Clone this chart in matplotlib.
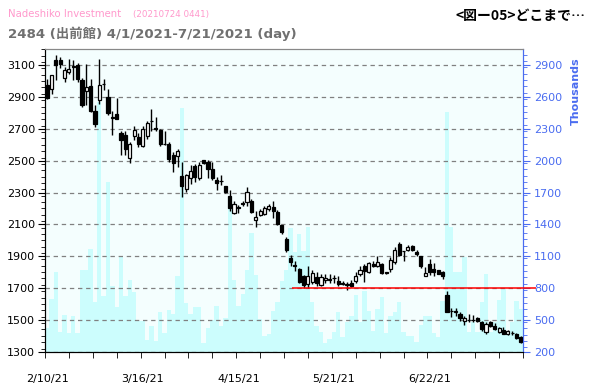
import matplotlib
matplotlib.use("Agg")
import matplotlib.pyplot as plt
import numpy as np
from matplotlib.ticker import MultipleLocator, FixedLocator

# ---- data ----
opens = [2978, 2952, 3135, 3135, 3022, 3057, 3095, 3099, 3005, 2940,
         2970, 2815, 2879, 2980, 2900, 2770, 2795, 2675, 2663, 2518,
         2654, 2646, 2592, 2655, 2751, 2705, 2696, 2604, 2602, 2533,
         2529, 2407, 2323, 2390, 2466, 2390, 2502, 2491, 2445, 2376,
         2370, 2338, 2281, 2172, 2210, 2237, 2239, 2250, 2130, 2160,
         2164, 2198, 2208, 2177, 2093, 2005, 1891, 1843, 1820, 1778,
         1728, 1740, 1772, 1719, 1749, 1753, 1763, 1747, 1728, 1721,
         1732, 1742, 1786, 1841, 1799, 1851, 1841, 1851, 1799, 1820,
         1862, 1977, 1931, 1942, 1967, 1929, 1900, 1778, 1851, 1820,
         1816, 1799, 1656, 1554, 1552, 1537, 1493, 1499, 1499, 1510,
         1489, 1426, 1489, 1464, 1422, 1438, 1411, 1417, 1409, 1390]
closes = [2896, 3040, 3099, 3105, 3068, 3078, 3089, 3015, 2850, 2962,
          2815, 2732, 2973, 2980, 2800, 2770, 2764, 2632, 2575, 2606,
          2694, 2608, 2700, 2738, 2751, 2700, 2604, 2604, 2512, 2485,
          2558, 2340, 2411, 2438, 2397, 2474, 2487, 2449, 2390, 2361,
          2370, 2302, 2202, 2229, 2204, 2231, 2302, 2177, 2149, 2187,
          2200, 2218, 2183, 2103, 2051, 1940, 1862, 1839, 1740, 1719,
          1776, 1795, 1732, 1768, 1761, 1753, 1763, 1724, 1728, 1721,
          1715, 1778, 1816, 1805, 1858, 1841, 1866, 1793, 1793, 1879,
          1942, 1910, 1931, 1956, 1942, 1912, 1837, 1795, 1799, 1799,
          1791, 1778, 1552, 1554, 1552, 1510, 1510, 1499, 1499, 1493,
          1443, 1474, 1464, 1443, 1449, 1411, 1432, 1417, 1384, 1359]
highs = [3015, 3040, 3162, 3150, 3089, 3137, 3130, 3116, 3020, 3110,
         3015, 2850, 3140, 3015, 2952, 2815, 2896, 2684, 2684, 2617,
         2721, 2676, 2721, 2747, 2822, 2774, 2700, 2684, 2617, 2554,
         2575, 2495, 2418, 2474, 2480, 2491, 2502, 2502, 2491, 2397,
         2411, 2344, 2319, 2250, 2223, 2248, 2334, 2260, 2187, 2198,
         2214, 2229, 2244, 2193, 2099, 2019, 1908, 1873, 1824, 1782,
         1841, 1816, 1799, 1789, 1789, 1789, 1782, 1774, 1747, 1740,
         1753, 1799, 1837, 1851, 1866, 1873, 1904, 1858, 1803, 1893,
         1956, 1992, 1935, 1971, 1971, 1942, 1904, 1830, 1883, 1858,
         1816, 1810, 1684, 1573, 1573, 1547, 1522, 1537, 1530, 1516,
         1495, 1489, 1495, 1480, 1453, 1453, 1436, 1432, 1417, 1396]
lows = [2889, 2921, 3009, 3080, 2994, 3047, 3005, 2994, 2836, 2850,
        2808, 2711, 2858, 2945, 2785, 2663, 2764, 2533, 2533, 2487,
        2627, 2585, 2585, 2638, 2684, 2684, 2592, 2596, 2495, 2428,
        2460, 2271, 2302, 2355, 2365, 2376, 2480, 2390, 2376, 2313,
        2348, 2298, 2187, 2166, 2172, 2218, 2218, 2172, 2086, 2151,
        2156, 2187, 2143, 2093, 2040, 1929, 1837, 1810, 1732, 1698,
        1698, 1726, 1715, 1715, 1732, 1732, 1732, 1711, 1719, 1688,
        1705, 1732, 1778, 1736, 1795, 1830, 1830, 1786, 1786, 1803,
        1849, 1904, 1872, 1935, 1935, 1904, 1824, 1774, 1782, 1778,
        1786, 1757, 1547, 1516, 1522, 1495, 1468, 1489, 1489, 1489,
        1432, 1411, 1453, 1438, 1415, 1409, 1405, 1407, 1380, 1354]
volumes = [420, 696, 954, 382, 549, 376, 539, 376, 972, 972,
           1167, 671, 2549, 721, 1801, 815, 618, 1104, 727, 878,
           765, 489, 489, 313, 445, 304, 577, 373, 596, 552,
           916, 2498, 658, 552, 624, 624, 278, 426, 501, 633,
           439, 520, 1544, 878, 627, 746, 972, 1318, 922, 508,
           351, 370, 583, 665, 866, 972, 1362, 1136, 1308, 1151,
           1378, 665, 445, 388, 278, 319, 382, 577, 335, 483,
           539, 734, 476, 775, 586, 398, 602, 718, 373, 539,
           571, 671, 382, 344, 344, 288, 451, 539, 533, 376,
           335, 681, 2461, 1371, 954, 947, 1089, 382, 476, 382,
           671, 932, 382, 476, 690, 800, 376, 483, 680, 602]
date_labels = ["2/10/21", "3/16/21", "4/15/21", "5/21/21", "6/22/21"]
date_label_idx = [0, 22, 44, 66, 88]
support_level = 1700
support_start = 56.3

# ---- figure ----
plt.rcParams['font.family'] = ['DejaVu Sans', 'Noto Sans CJK JP']
fig = plt.figure(figsize=(5.9, 3.9), dpi=100)
fig.patch.set_facecolor('white')
ax2 = fig.add_axes([45/590, 1-351.7/390, 478/590, (351.7-49.3)/390])
ax = ax2.twinx()
ax.set_zorder(ax2.get_zorder() + 1)
ax.patch.set_visible(False)
ax2.set_facecolor('#f4fefe')

n = len(opens)
x = np.arange(n)
# volume (right axis, drawn behind)
ax2.bar(x, volumes, width=1.0, bottom=0, color='#ccfdfd', edgecolor='none', zorder=1)
ax2.set_ylim(200, 3050)
ax2.set_xlim(-0.5, n - 0.5)

# candles on price axis
o = np.array(opens); c = np.array(closes)
h = np.array(highs); l = np.array(lows)
ax.vlines(x, l, h, color='black', linewidth=1.0, zorder=3)
up = c >= o
body_bot = np.minimum(o, c)
body_h = np.maximum(np.abs(c - o), 1.5)
ax.bar(x[up], body_h[up], bottom=body_bot[up], width=0.72, color='white',
       edgecolor='black', linewidth=0.9, zorder=4)
ax.bar(x[~up], body_h[~up], bottom=body_bot[~up], width=0.72, color='black',
       edgecolor='black', linewidth=0.9, zorder=4)
ax.set_ylim(1300, 3200)
ax.set_xlim(-0.5, n - 0.5)

# gridlines
for v in range(1300, 3200, 200):
    ax.axhline(v, color='#808080', linestyle=(0, (3.5, 3)), linewidth=0.9, zorder=2)

# support line
ax.hlines(support_level, support_start, n - 0.5 + 3, color='red', linewidth=1.1,
          zorder=5, clip_on=False)

# axes positions: price on left, volume on right
ax.yaxis.tick_left()
ax.yaxis.set_label_position('left')
ax2.yaxis.tick_right()
ax2.yaxis.set_label_position('right')

ax.set_yticks(range(1300, 3101, 200))
ax.yaxis.set_minor_locator(MultipleLocator(40))
ax.tick_params(axis='y', which='major', labelsize=8, length=5, color='black',
               labelcolor='black', direction='out', pad=2)
ax.tick_params(axis='y', which='minor', length=3, color='black', direction='out')

ax2.set_yticks(range(200, 3001, 300))
ax2.yaxis.set_minor_locator(MultipleLocator(60))
blue = '#4a6cf0'
ax2.tick_params(axis='y', which='major', labelsize=8, length=5, color=blue,
                labelcolor=blue, direction='out', pad=3)
ax2.tick_params(axis='y', which='minor', length=3, color=blue, direction='out')
ax2.set_ylabel('Thousands', color=blue, fontsize=8, fontweight='bold', labelpad=2)
ax2.yaxis.set_label_coords(1.10, 0.86)

# x ticks
ax2.xaxis.set_major_locator(FixedLocator(date_label_idx))
ax2.set_xticklabels(date_labels)
ax2.xaxis.set_minor_locator(FixedLocator(list(np.arange(-0.5, n, 5.5))))
ax2.tick_params(axis='x', which='major', length=0, labelsize=8, pad=16)
ax2.tick_params(axis='x', which='minor', length=4, color='black', direction='out')
ax.tick_params(axis='x', which='both', bottom=False, labelbottom=False)

for a in (ax, ax2):
    a.spines['top'].set_color('#888888')
    a.spines['left'].set_color('black')
    a.spines['bottom'].set_color('black')
    a.spines['right'].set_color(blue)

# titles
fig.text(8/590, 1-17/390, 'Nadeshiko Investment', color='#ff99cc', fontsize=7.3,
         va='baseline', ha='left')
fig.text(133/590, 1-17/390, '(20210724 0441)', color='#ff99cc', fontsize=6.3,
         va='baseline', ha='left')
fig.text(8/590, 1-38/390, '2484 (出前館) 4/1/2021-7/21/2021 (day)', color='#707070',
         fontsize=9.6, fontweight='bold', va='baseline', ha='left')
fig.text(585/590, 1-16/390, '<図ー05>どこまで…', color='black', fontsize=10,
         fontweight='bold', va='center', ha='right',
         family=['Noto Sans CJK JP', 'DejaVu Sans'])

fig.savefig('out.png', dpi=100)
